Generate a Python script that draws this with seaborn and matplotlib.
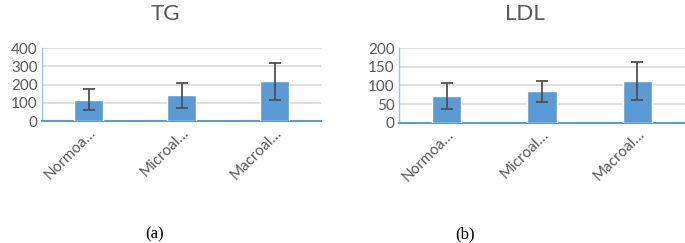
import numpy as np
import pandas as pd
import matplotlib
matplotlib.use("Agg")
import matplotlib.pyplot as plt
import seaborn as sns

# category labels (truncated as in the source chart)
groups = ["Normoa…", "Microal…", "Macroal…"]

# TG means and SDs
tg_mean = [118, 140, 218]
tg_sd = [57, 67, 100]

# LDL means and SDs
ldl_mean = [72, 84, 112]
ldl_sd = [34, 29, 52]

tg_ticks = [0, 100, 200, 300, 400]
ldl_ticks = [0, 50, 100, 150, 200]

BAR = "#5b9bd5"
GRID = "#d9d9d9"
TEXT = "#595959"

sns.set_theme(style="white")
plt.rcParams["font.family"] = ["Lato", "DejaVu Sans"]


def draw_panel(ax, title, means, sds, ticks, title_x):
    df = pd.DataFrame({"group": groups, "value": means})
    sns.barplot(data=df, x="group", y="value", color=BAR, width=0.31,
                saturation=1, ax=ax, zorder=3)
    ax.errorbar(np.arange(len(groups)), means, yerr=sds, fmt="none",
                ecolor="#505050", elinewidth=1.3, capsize=4, capthick=1.3,
                zorder=4)
    ax.set_ylim(ticks[0], ticks[-1])
    ax.set_yticks(ticks)
    ax.set_xlim(-0.5, len(groups) - 0.5)
    ax.yaxis.grid(True, color=GRID, linewidth=1.2, zorder=0)
    ax.set_axisbelow(True)
    ax.set_xlabel("")
    ax.set_ylabel("")
    ax.tick_params(axis="both", length=0, labelsize=11, colors=TEXT, pad=3)
    for lab in ax.get_xticklabels():
        lab.set_rotation(45)
        lab.set_ha("right")
        lab.set_rotation_mode("anchor")
    for s in ["top", "right"]:
        ax.spines[s].set_visible(False)
    ax.spines["left"].set_color("#9dc3e6")
    ax.spines["left"].set_linewidth(1.0)
    ax.spines["bottom"].set_color(BAR)
    ax.spines["bottom"].set_linewidth(1.5)
    ax.set_title(title, fontsize=16, color=TEXT, pad=20, x=title_x)


fig = plt.figure(figsize=(6.85, 2.43), dpi=100)
ax1 = fig.add_axes([42 / 685, 0.502, 279 / 685, 0.300])
ax2 = fig.add_axes([399 / 685, 0.495, 286 / 685, 0.307])

draw_panel(ax1, "TG", tg_mean, tg_sd, tg_ticks, 0.443)
draw_panel(ax2, "LDL", ldl_mean, ldl_sd, ldl_ticks, 0.44)

fig.text(155 / 685, 1 - 234 / 243, "(a)", family="Liberation Serif",
         fontsize=12, ha="center", va="center", color="black")
fig.text(465 / 685, 1 - 234 / 243, "(b)", family="Liberation Serif",
         fontsize=12, ha="center", va="center", color="black")

fig.savefig("out.png", dpi=100, facecolor="white")
